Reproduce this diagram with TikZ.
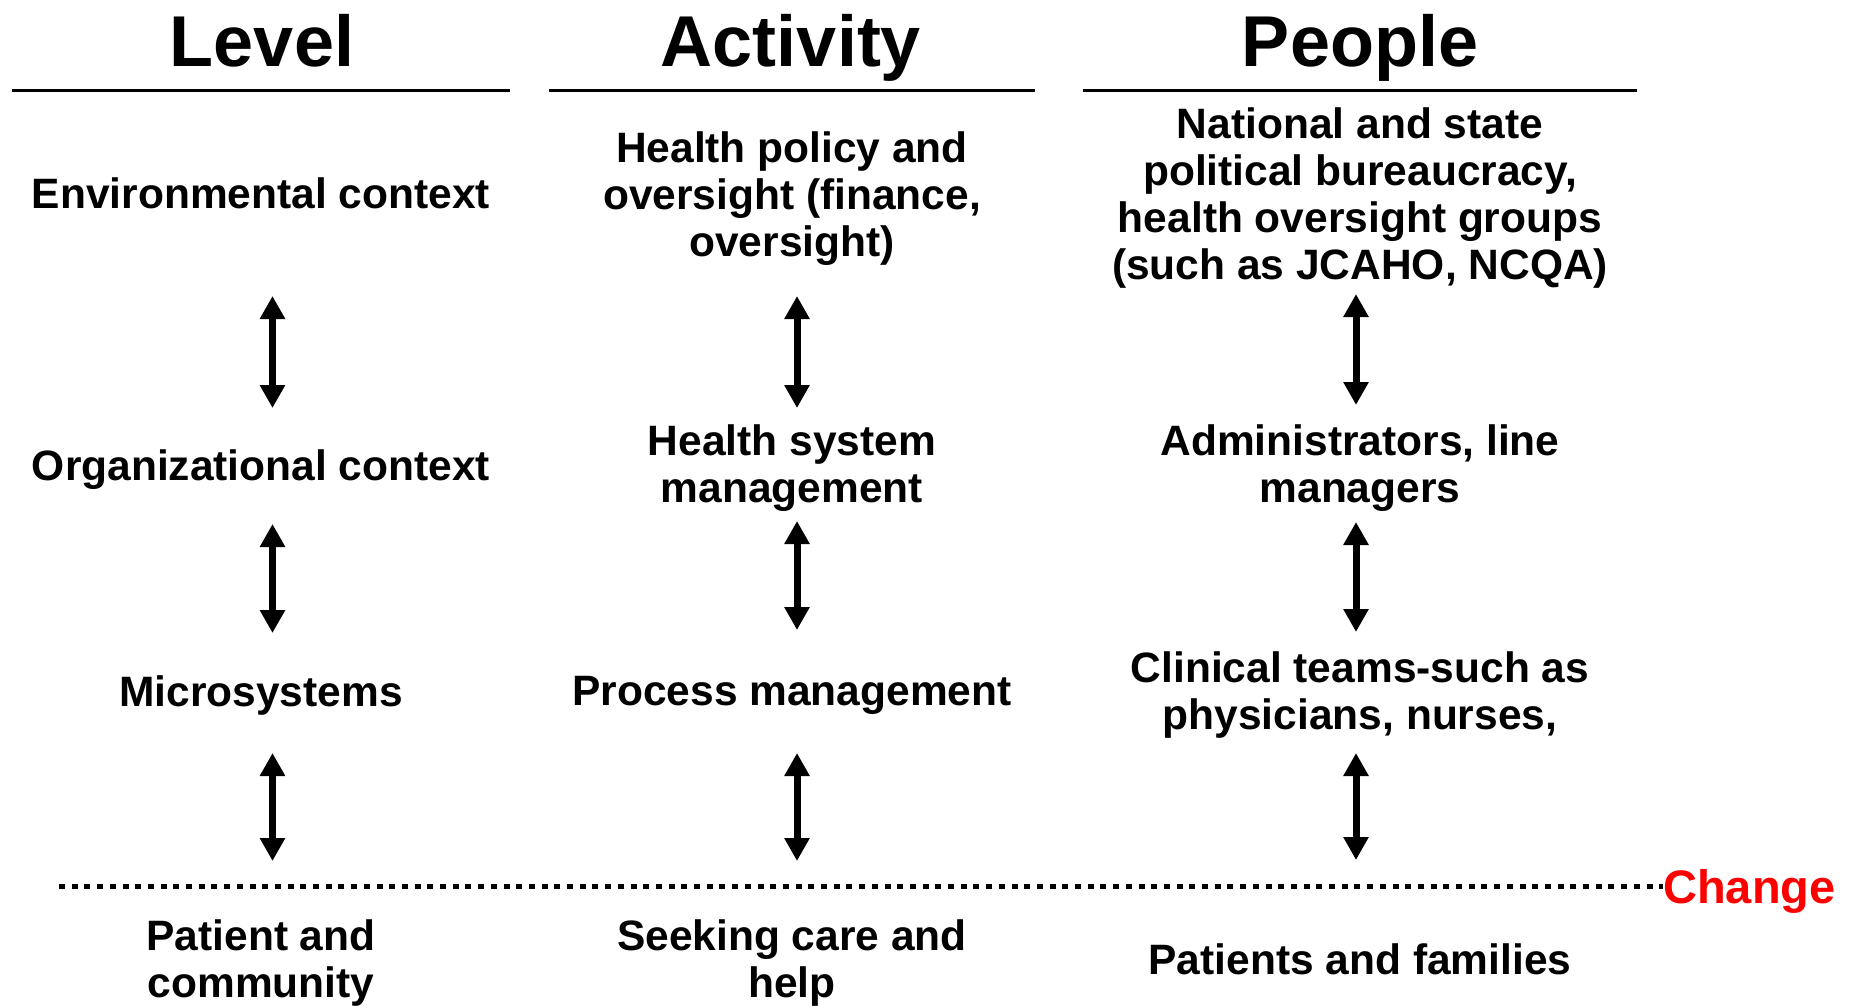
\documentclass[tikz,border=0pt]{standalone}
\usepackage{fontspec}
\setmainfont{Liberation Sans}
\usetikzlibrary{arrows.meta}
\definecolor{changered}{RGB}{255,0,0}
\tikzset{
  lbl/.style={font=\bfseries\fontsize{42.5}{47}\selectfont, align=center, inner sep=0pt},
  hdr/.style={font=\bfseries\fontsize{72}{80}\selectfont, inner sep=0pt, anchor=base},
  rulebar/.style={line width=3pt},
  link/.style={line width=7pt, {Triangle[width=24pt,length=23pt]}-{Triangle[width=24pt,length=23pt]}},
  dotline/.style={line width=5pt, dash pattern=on 6pt off 6.7pt},
}
\begin{document}
\begin{tikzpicture}[x=1pt,y=-1pt]
\useasboundingbox (0,0) rectangle (1858,1005);
\fill[white] (0,0) rectangle (1858,1005);

% headers
\node[hdr] (hLevel) at (262,66) {Level};
\node[hdr] (hAct) at (791,66) {Activity};
\node[hdr] (hPpl) at (1360,66) {People};
\draw[rulebar] (12,90) -- (510,90);
\draw[rulebar] (549,90) -- (1035,90);
\draw[rulebar] (1083,90) -- (1637,90);

% row 1
\node[lbl, anchor=base] (env) at (261,208) {Environmental context};
\node[lbl] (act1) at (792,199) {Health policy and\\oversight (finance,\\oversight)};
\node[lbl] (ppl1) at (1360,198) {National and state\\political bureaucracy,\\health oversight groups\\(such as JCAHO, NCQA)};

% row 2
\node[lbl, anchor=base] (org) at (261,480) {Organizational context};
\node[lbl] (act2) at (792,468) {Health system\\management};
\node[lbl] (ppl2) at (1360,468) {Administrators, line\\managers};

% row 3
\node[lbl, anchor=base] (micro) at (261,706) {Microsystems};
\node[lbl, anchor=base] (proc) at (792,705) {Process management};
\node[lbl] (ppl3) at (1360,695) {Clinical teams-such as\\physicians, nurses,};

% row 4
\node[lbl] (pat) at (261,963) {Patient and\\community};
\node[lbl] (seek) at (792,963) {Seeking care and\\help};
\node[lbl, anchor=base] (fam) at (1360,974) {Patients and families};

% arrow end points
\coordinate (a1t) at (272.5,296); \coordinate (a1b) at (272.5,408);
\coordinate (a2t) at (272.5,524); \coordinate (a2b) at (272.5,633);
\coordinate (a3t) at (272.5,753); \coordinate (a3b) at (272.5,861);
\coordinate (b1t) at (797,296); \coordinate (b1b) at (797,408);
\coordinate (b2t) at (797,521); \coordinate (b2b) at (797,630);
\coordinate (b3t) at (797,753); \coordinate (b3b) at (797,861);
\coordinate (c1t) at (1356,294); \coordinate (c1b) at (1356,405);
\coordinate (c2t) at (1356,522); \coordinate (c2b) at (1356,632);
\coordinate (c3t) at (1356,753); \coordinate (c3b) at (1356,860);

\draw[link] (a1t) -- (a1b);
\draw[link] (a2t) -- (a2b);
\draw[link] (a3t) -- (a3b);
\draw[link] (b1t) -- (b1b);
\draw[link] (b2t) -- (b2b);
\draw[link] (b3t) -- (b3b);
\draw[link] (c1t) -- (c1b);
\draw[link] (c2t) -- (c2b);
\draw[link] (c3t) -- (c3b);

% change line
\node[font=\bfseries\fontsize{47}{50}\selectfont, text=changered, inner sep=0pt, anchor=base west] (chg) at (1663,903) {Change};
\coordinate (dstart) at (59,886);
\draw[dotline] (dstart) -- (chg.west |- dstart);
\end{tikzpicture}
\end{document}
